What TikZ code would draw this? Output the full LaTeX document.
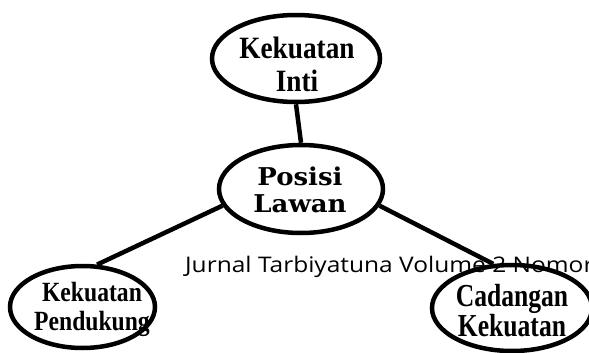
\documentclass[tikz,border=0pt]{standalone}
\usepackage{fontspec}
\usetikzlibrary{shapes.geometric}
\newfontfamily\tnrA[FakeStretch=0.88]{Liberation Serif}
\newfontfamily\tnrB[FakeStretch=0.85]{Liberation Serif}
\newfontfamily\tnrC[FakeStretch=0.80]{Liberation Serif}
\newfontfamily\dvs[FakeStretch=1.06]{DejaVu Serif}
\newfontfamily\hdr[FakeStretch=1.14]{Open Sans}
\tikzset{
  bubble/.style={ellipse, draw=black, line width=4.5pt, inner sep=0pt},
  conn/.style={draw=black, line width=4.5pt},
  lbl/.style={align=center, inner sep=0pt, anchor=base}
}
\begin{document}
\begin{tikzpicture}[x=1pt,y=-1pt]
\useasboundingbox (0,0) rectangle (589,353);
% header text
\node[anchor=base west, inner sep=0pt, font=\hdr\fontsize{21.5}{21.5}\selectfont] (hdr) at (185,272.7) {Jurnal Tarbiyatuna Volume 2 Nomor};
% ellipses
\node[bubble, minimum width=168pt, minimum height=87pt] (top) at (296,58.5) {};
\node[bubble, minimum width=164pt, minimum height=88pt] (mid) at (301,189) {};
\node[bubble, minimum width=145pt, minimum height=82pt] (bl) at (82.5,307) {};
\node[bubble, minimum width=160pt, minimum height=86pt] (br) at (512,308) {};
% texts (base anchor = baseline of the last line)
\node[lbl, font=\tnrA\bfseries\fontsize{31}{33.4}\selectfont] (ttop) at (297,91.7) {Kekuatan\\Inti};
\node[lbl, font=\dvs\bfseries\fontsize{24.5}{27}\selectfont] (tmid) at (300,212) {Posisi\\Lawan};
\node[lbl, font=\tnrB\bfseries\fontsize{27.8}{28.3}\selectfont] (tbl) at (92,330) {Kekuatan\\Pendukung};
\node[lbl, font=\tnrC\bfseries\fontsize{32}{30}\selectfont] (tbr) at (512,336.7) {Cadangan\\Kekuatan};
% connectors
\draw[conn] (top.south) -- (mid.north);
\draw[conn] (mid.192) -- (bl.71);
\draw[conn] (mid.-12) -- (br.113);
\end{tikzpicture}
\end{document}
